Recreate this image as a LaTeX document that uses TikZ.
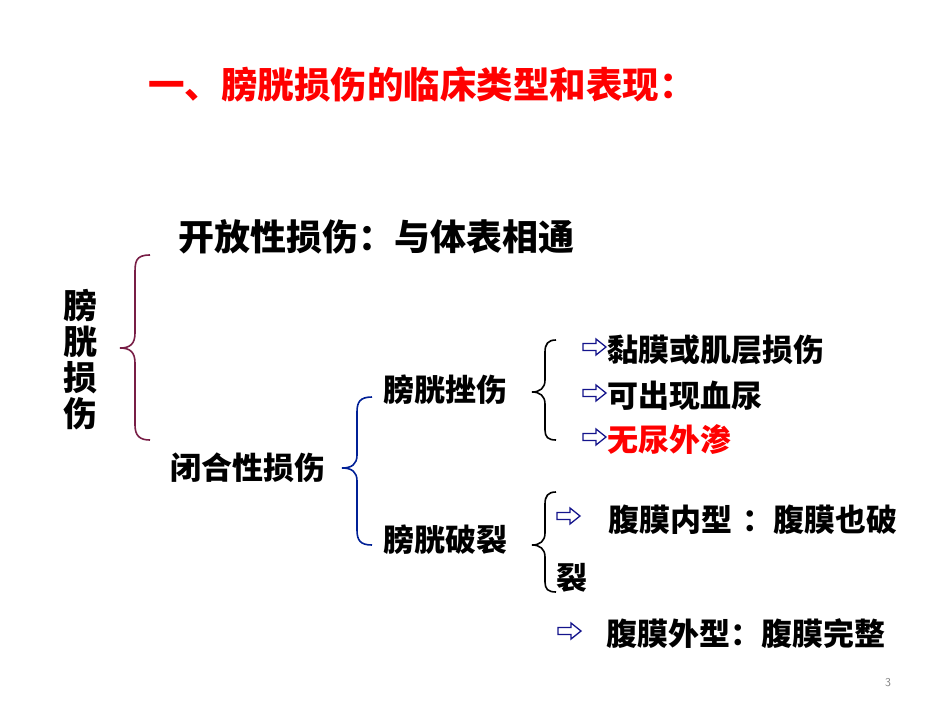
\documentclass[tikz,border=0pt]{standalone}
\usepackage{fontspec}
\newfontfamily\cjk{Noto Sans CJK SC}
\begin{document}
\begin{tikzpicture}[x=1pt,y=-1pt,
  txt/.style={anchor=west,inner sep=0pt,font=\cjk\bfseries\fontsize{31}{31}\selectfont},
  big/.style={anchor=west,inner sep=0pt,font=\cjk\bfseries\fontsize{36}{36}\selectfont},
  brace/.style={line width=1.6pt},
  arr/.pic={\draw[draw={rgb,255:red,20;green,20;blue,140},fill=white,line width=1.3pt,line join=miter]
    (0,-3.5)--(13,-3.5)--(13,-8)--(23,0)--(13,8)--(13,3.5)--(0,3.5)--cycle;}]
\useasboundingbox (0,0) rectangle (950,713);
\fill[white] (0,0) rectangle (950,713);
\node[anchor=west,inner sep=0pt,text=red,font=\cjk\bfseries\fontsize{36.5}{36}\selectfont] (title) at (148,85) {一、膀胱损伤的临床类型和表现：};
\node[big] (open) at (178,237) {开放性损伤：与体表相通};
\node[anchor=center,inner sep=0pt,align=center,font=\cjk\bfseries\fontsize{34}{36}\selectfont] (root) at (80,360) {膀\\胱\\损\\伤};
\node[txt] (closed) at (170,468) {闭合性损伤};
\node[txt] (contu) at (383,390) {膀胱挫伤};
\node[txt] (rupt) at (383,540) {膀胱破裂};
\draw[brace,draw={rgb,255:red,120;green,30;blue,70}] (150,255) .. controls (135,255) and (135,262) .. (135,275) -- (135,333) .. controls (135,344) and (130,348) .. (120,348) .. controls (130,348) and (135,352) .. (135,363) -- (135,425) .. controls (135,436) and (140,440) .. (150,440);
\draw[brace,draw={rgb,255:red,0;green,32;blue,150}] (372,397) .. controls (360,397) and (357,402) .. (357,412) -- (357,455) .. controls (357,464) and (352,468) .. (342,468) .. controls (352,468) and (357,472) .. (357,481) -- (357,530) .. controls (357,540) and (360,545) .. (372,545);
\draw[brace] (556,340) .. controls (548,340) and (545,344) .. (545,352) -- (545,380) .. controls (545,388) and (540,392) .. (532,392) .. controls (540,392) and (545,396) .. (545,404) -- (545,430) .. controls (545,437) and (548,440) .. (556,440);
\draw[brace] (556,492) .. controls (548,492) and (545,496) .. (545,504) -- (545,533) .. controls (545,541) and (540,545) .. (532,545) .. controls (540,545) and (545,549) .. (545,557) -- (545,582) .. controls (545,589) and (548,592) .. (556,592);
\pic at (583,347) {arr};
\pic at (583,393) {arr};
\pic at (583,437) {arr};
\pic at (557,516) {arr};
\pic at (558,631) {arr};
\node[txt] (i1) at (607,350) {黏膜或肌层损伤};
\node[txt] (i2) at (607,396) {可出现血尿};
\node[txt,text=red] (i3) at (607,440) {无尿外渗};
\node[txt] (i4) at (608,520) {腹膜内型\,\,：腹膜也破};
\node[txt] (i4b) at (556,578) {裂};
\node[txt] (i5) at (606,634) {腹膜外型：腹膜完整};
\node[text=gray,font=\sffamily\fontsize{12}{12}\selectfont] (pg) at (888,683) {3};
\end{tikzpicture}
\end{document}
